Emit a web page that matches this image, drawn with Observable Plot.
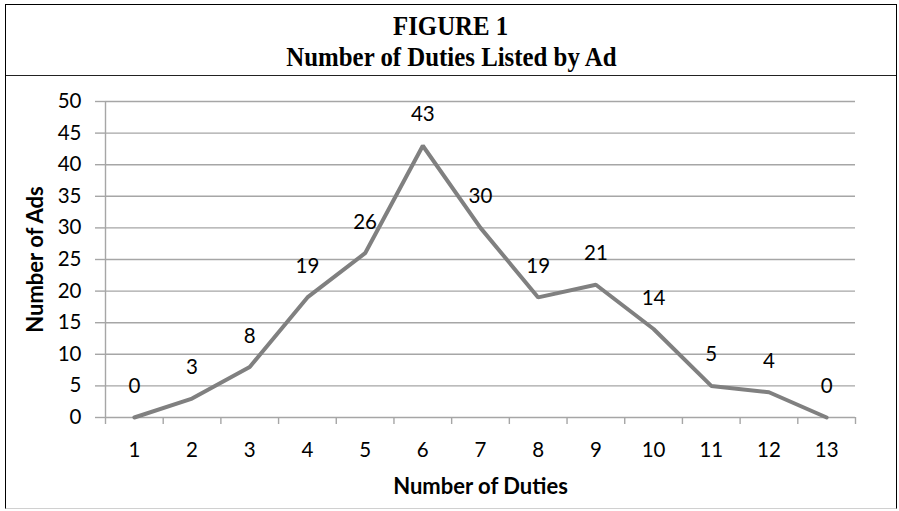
<!DOCTYPE html>
<html><head><meta charset="utf-8">
<script src="https://cdn.jsdelivr.net/npm/d3@7"></script>
<script src="https://cdn.jsdelivr.net/npm/@observablehq/plot@0.6"></script>
<style>
html,body{margin:0;padding:0;background:#fff;}
body{width:899px;height:511px;overflow:hidden;position:relative;font-family:Lato,sans-serif;}
#frame{position:absolute;left:5px;top:4px;width:892px;height:505px;border-left:1.5px solid #000;border-top:1.5px solid #000;border-right:1.5px solid #000;border-bottom:1px solid #d0d0d0;box-sizing:border-box;pointer-events:none;}
#sep{position:absolute;left:5px;top:75px;width:892px;height:0;border-top:1.5px solid #222;}
.t{position:absolute;left:5px;width:892px;text-align:center;font-family:"Liberation Serif","Times New Roman",serif;font-weight:bold;font-size:27px;line-height:30px;color:#000;white-space:nowrap;}
.t span{display:inline-block;transform:scaleX(0.92);transform-origin:center;}
#chart{position:absolute;left:0;top:77px;}
</style>
</head><body>
<div class="t" style="top:11px"><span>FIGURE 1</span></div>
<div class="t" style="top:42px"><span>Number of Duties Listed by Ad</span></div>
<div id="sep"></div>
<div id="chart"></div>
<div id="frame"></div>
<script>
const duties = [1,2,3,4,5,6,7,8,9,10,11,12,13];
const ads = [0,3,8,19,26,43,30,19,21,14,5,4,0];
const yTicks = [0,5,10,15,20,25,30,35,40,45,50];
const xTitle = "Number of Duties";
const yTitle = "Number of Ads";

const data = duties.map((d,i)=>({duties:d, ads:ads[i]}));
const xMin = d3.min(duties) - 0.5, xMax = d3.max(duties) + 0.5;
const boundaries = d3.range(xMin, xMax + 0.01, 1);
const grey = "#a6a6a6";
const fs = 20.5;
const fsTitle = 22;

const plot = Plot.plot({
  width: 899,
  height: 430,
  marginLeft: 105,
  marginRight: 44,
  marginTop: 24,
  marginBottom: 90,
  style: {fontFamily: "Lato, sans-serif", background: "transparent", overflow: "visible"},
  x: {domain: [xMin, xMax]},
  y: {domain: [0, 50]},
  marks: [
    Plot.gridY(yTicks, {stroke: grey, strokeOpacity: 1, strokeWidth: 1.4}),
    Plot.ruleX([xMin], {stroke: grey, strokeWidth: 1.4}),
    Plot.axisY(yTicks, {tickSize: 10, tickPadding: 14, stroke: grey, strokeWidth: 1.4, fill: "#000", fontSize: fs, label: null}),
    Plot.axisX(boundaries, {tickSize: 7, tickFormat: () => "", stroke: grey, strokeWidth: 1.4, label: null}),
    Plot.axisX(duties, {tickSize: 0, tickPadding: 25, fill: "#000", fontSize: fs, label: null}),
    Plot.line(data, {x: "duties", y: "ads", stroke: "#808080", strokeWidth: 4, strokeLinejoin: "miter"}),
    Plot.text(data, {x: "duties", y: "ads", text: "ads", dy: -31, fontSize: fs, fill: "#000"}),
    Plot.text([xTitle], {frameAnchor: "bottom", dy: 69, textAnchor: "middle", lineAnchor: "middle", fontSize: fsTitle, fontWeight: "bold", fill: "#000"}),
    Plot.text([yTitle], {frameAnchor: "left", dx: -70, rotate: -90, textAnchor: "middle", lineAnchor: "middle", fontSize: fsTitle, fontWeight: "bold", fill: "#000"})
  ]
});
document.getElementById("chart").appendChild(plot);
</script>
</body></html>
